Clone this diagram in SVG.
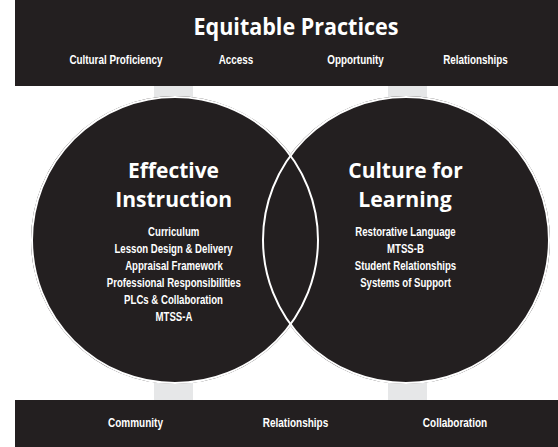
<svg xmlns="http://www.w3.org/2000/svg" width="558" height="447" viewBox="0 0 558 447">
<style>
.band{fill:#231f20}
.bar{fill:#e6e7e8}
.circ{fill:#231f20}
.ring{fill:none;stroke:#ffffff;stroke-width:2}
.title{font-family:"Open Sans","Liberation Sans",sans-serif;font-weight:700;fill:#ffffff;text-anchor:middle}
.item{font-family:"Liberation Sans",Arial,sans-serif;font-weight:700;fill:#ffffff;text-anchor:middle;font-size:13px}
.sub{font-family:"Liberation Sans",Arial,sans-serif;font-weight:700;fill:#ffffff;text-anchor:middle;font-size:12.5px}
</style>
<rect width="558" height="447" fill="#ffffff"/>
<g id="pillars">
<rect class="bar" x="154" y="86" width="39" height="314"/>
<rect class="bar" x="388" y="86" width="39" height="314"/>
</g>
<g id="equitable-practices">
<rect class="band" x="15" y="0" width="543" height="86"/>
<text class="title" x="296" y="35" font-size="22.5" textLength="205" lengthAdjust="spacingAndGlyphs">Equitable Practices</text>
<text class="sub" transform="translate(116 64) scale(0.79 1)">Cultural Proficiency</text>
<text class="sub" transform="translate(236 64) scale(0.79 1)">Access</text>
<text class="sub" transform="translate(355.5 64) scale(0.79 1)">Opportunity</text>
<text class="sub" transform="translate(475.5 64) scale(0.79 1)">Relationships</text>
</g>
<g id="foundation">
<rect class="band" x="15" y="400" width="543" height="47"/>
<text class="sub" transform="translate(135.5 427) scale(0.8 1)">Community</text>
<text class="sub" transform="translate(295.5 427) scale(0.8 1)">Relationships</text>
<text class="sub" transform="translate(455 427) scale(0.8 1)">Collaboration</text>
</g>
<g id="circles">
<circle class="circ" cx="175" cy="240" r="144"/>
<circle class="circ" cx="406" cy="240" r="144"/>
<circle class="ring" cx="175" cy="240" r="143"/>
<circle class="ring" cx="406" cy="240" r="143"/>
</g>
<g id="effective-instruction">
<text class="title" x="173.5" y="177.7" font-size="22" textLength="91" lengthAdjust="spacingAndGlyphs">Effective</text>
<text class="title" x="173.7" y="207.3" font-size="22" textLength="117" lengthAdjust="spacingAndGlyphs">Instruction</text>
<text class="item" transform="translate(173.7 236) scale(0.74 1)">Curriculum</text>
<text class="item" transform="translate(173.5 253) scale(0.74 1)">Lesson Design &amp; Delivery</text>
<text class="item" transform="translate(174 270) scale(0.74 1)">Appraisal Framework</text>
<text class="item" transform="translate(173.8 287) scale(0.74 1)">Professional Responsibilities</text>
<text class="item" transform="translate(173.5 304) scale(0.74 1)">PLCs &amp; Collaboration</text>
<text class="item" transform="translate(174 321) scale(0.74 1)">MTSS-A</text>
</g>
<g id="culture-for-learning">
<text class="title" x="405.5" y="177.7" font-size="22" textLength="114.4" lengthAdjust="spacingAndGlyphs">Culture for</text>
<text class="title" x="405" y="207" font-size="22" textLength="93.4" lengthAdjust="spacingAndGlyphs">Learning</text>
<text class="item" transform="translate(405.5 236) scale(0.74 1)">Restorative Language</text>
<text class="item" transform="translate(405.5 253) scale(0.74 1)">MTSS-B</text>
<text class="item" transform="translate(405.5 270) scale(0.74 1)">Student Relationships</text>
<text class="item" transform="translate(405.5 287) scale(0.74 1)">Systems of Support</text>
</g>
</svg>
